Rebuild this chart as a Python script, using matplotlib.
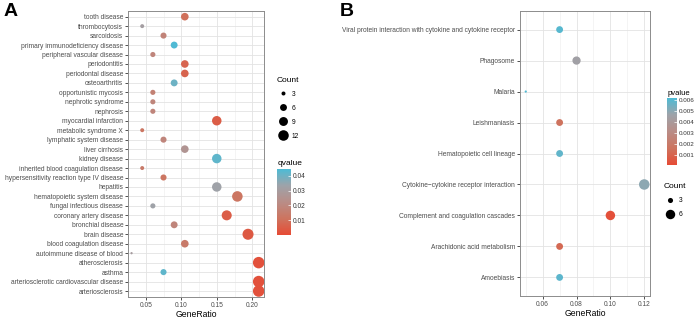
"""
Enrichment dot plots: disease ontology (A) and KEGG pathways (B)
"""
import numpy as np
import matplotlib
matplotlib.use('Agg')
import matplotlib.pyplot as plt
from matplotlib.colors import LinearSegmentedColormap, Normalize
from matplotlib.colorbar import ColorbarBase
from matplotlib.lines import Line2D

plt.rcParams['font.family'] = ['Liberation Sans', 'DejaVu Sans']

# ---------------- panel A data (top to bottom) ----------------
termsA = ['tooth disease', 'thrombocytosis', 'sarcoidosis', 'primary immunodeficiency disease',
          'peripheral vascular disease', 'periodontitis', 'periodontal disease', 'osteoarthritis',
          'opportunistic mycosis', 'nephrotic syndrome', 'nephrosis', 'myocardial infarction',
          'metabolic syndrome X', 'lymphatic system disease', 'liver cirrhosis', 'kidney disease',
          'inherited blood coagulation disease', 'hypersensitivity reaction type IV disease',
          'hepatitis', 'hematopoietic system disease', 'fungal infectious disease',
          'coronary artery disease', 'bronchial disease', 'brain disease',
          'blood coagulation disease', 'autoimmune disease of blood', 'atherosclerosis',
          'asthma', 'arteriosclerotic cardiovascular disease', 'arteriosclerosis']
ratioA = [0.105, 0.045, 0.075, 0.09, 0.06, 0.105, 0.105, 0.09, 0.06, 0.06, 0.06, 0.15,
          0.045, 0.075, 0.105, 0.15, 0.045, 0.075, 0.15, 0.179, 0.06, 0.164, 0.09, 0.194,
          0.105, 0.03, 0.209, 0.075, 0.209, 0.209]
countA = [7, 3, 5, 6, 4, 7, 7, 6, 4, 4, 4, 10, 3, 5, 7, 10, 3, 5, 10, 12, 4, 11, 6, 13,
          7, 2, 14, 5, 14, 14]
qvalA = [0.010, 0.031, 0.018, 0.044, 0.019, 0.007, 0.007, 0.040, 0.017, 0.019, 0.019, 0.005,
         0.012, 0.019, 0.026, 0.042, 0.014, 0.012, 0.033, 0.012, 0.033, 0.005, 0.019, 0.004,
         0.014, 0.030, 0.002, 0.042, 0.002, 0.002]

# ---------------- panel B data (top to bottom) ----------------
termsB = ['Viral protein interaction with cytokine and cytokine receptor', 'Phagosome', 'Malaria',
          'Leishmaniasis', 'Hematopoietic cell lineage', 'Cytokine\u2212cytokine receptor interaction',
          'Complement and coagulation cascades', 'Arachidonic acid metabolism', 'Amoebiasis']
ratioB = [0.07, 0.08, 0.05, 0.07, 0.07, 0.12, 0.10, 0.07, 0.07]
countB = [4, 5, 2, 4, 4, 7, 6, 4, 4]
pvalB = [0.0060, 0.0045, 0.0061, 0.0016, 0.0058, 0.0050, 0.0003, 0.0012, 0.0059]

# red -> grey -> blue, roughly like ggplot's Lab gradient
cmap = LinearSegmentedColormap.from_list('rb', ['#E64B35', '#CD745F', '#B98D87', '#9EA3A9', '#4DBBD5'])

DPI = 100
PT = 72.0 / DPI


def dot_size(c, cmin, cmax, dmin, dmax):
    # area scales linearly with count, diameters in px -> scatter s in pt^2
    a = dmin ** 2 + (np.asarray(c, float) - cmin) / (cmax - cmin) * (dmax ** 2 - dmin ** 2)
    return a * PT ** 2


def style_axes(ax, n, xlim, xticks, xlabels, minor):
    ax.set_ylim(-0.6, n - 0.4)
    ax.set_yticks(range(n))
    ax.set_xlim(*xlim)
    ax.set_xticks(xticks)
    ax.set_xticklabels(xlabels)
    ax.set_xticks(minor, minor=True)
    ax.grid(True, which='major', color='#E3E3E3', lw=0.6)
    ax.grid(True, which='minor', axis='x', color='#F0F0F0', lw=0.5)
    ax.set_axisbelow(True)
    for s in ax.spines.values():
        s.set_color('#8C8C8C')
        s.set_linewidth(0.7)
    ax.tick_params(axis='both', which='major', labelsize=4.8, labelcolor='#4D4D4D',
                   color='#333333', length=2, width=0.6, pad=1.5)
    ax.tick_params(axis='both', which='minor', length=0)
    ax.set_xlabel('GeneRatio', fontsize=6.2, labelpad=1)


W, H = 699, 318
fig = plt.figure(figsize=(W / DPI, H / DPI), dpi=DPI)

# ---------------- panel A ----------------
axA = fig.add_axes([128 / W, 1 - 296.7 / H, 136 / W, 285.7 / H])
nA = len(termsA)
yA = np.arange(nA)[::-1]
normA = Normalize(0.0001, 0.0445)
szA = (2, 14, 2.3, 11.5)
axA.scatter(ratioA, yA, s=dot_size(countA, *szA), c=qvalA, cmap=cmap, norm=normA,
            linewidths=0, zorder=3)
style_axes(axA, nA, (0.025, 0.2165), [0.05, 0.10, 0.15, 0.20], ['0.05', '0.10', '0.15', '0.20'],
           [0.075, 0.125, 0.175])
axA.set_yticklabels(termsA[::-1])

# count legend A
legA = [3, 6, 9, 12]
hA = [Line2D([], [], ls='', marker='o', color='black', markeredgewidth=0,
             markersize=np.sqrt(dot_size(c, *szA))) for c in legA]
lg = fig.legend(hA, [str(c) for c in legA], title='Count', loc='upper left',
                bbox_to_anchor=(272 / W, 1 - 72 / H), frameon=False, fontsize=4.8,
                title_fontsize=6, labelspacing=1.05, handletextpad=0.3, borderpad=0.2)
lg._legend_box.align = 'left'

# qvalue colorbar
caxA = fig.add_axes([277.3 / W, 1 - 235 / H, 13.4 / W, 66 / H])
cbA = ColorbarBase(caxA, cmap=cmap, norm=normA, ticks=[0.01, 0.02, 0.03, 0.04])
cbA.outline.set_visible(False)
cbA.ax.tick_params(labelsize=4.8, length=2.5, color='white', width=0.5, pad=1.5,
                   direction='in', labelcolor='#333333')
cbA.ax.set_title('qvalue', fontsize=6, loc='left', pad=3)

# ---------------- panel B ----------------
axB = fig.add_axes([520 / W, 1 - 296 / H, 130 / W, 285 / H])
nB = len(termsB)
yB = np.arange(nB)[::-1]
normB = Normalize(0.0001, 0.0062)
szB = (2, 7, 2.2, 10.5)
axB.scatter(ratioB, yB, s=dot_size(countB, *szB), c=pvalB, cmap=cmap, norm=normB,
            linewidths=0, zorder=3)
style_axes(axB, nB, (0.0466, 0.1234), [0.06, 0.08, 0.10, 0.12], ['0.06', '0.08', '0.10', '0.12'],
           [0.05, 0.07, 0.09, 0.11])
axB.set_yticklabels(termsB[::-1])

# pvalue colorbar
caxB = fig.add_axes([667.3 / W, 1 - 165 / H, 9.5 / W, 67 / H])
cbB = ColorbarBase(caxB, cmap=cmap, norm=normB,
                   ticks=[0.001, 0.002, 0.003, 0.004, 0.005, 0.006])
cbB.outline.set_visible(False)
cbB.ax.tick_params(labelsize=4.5, length=2, color='white', width=0.5, pad=1.5,
                   direction='in', labelcolor='#333333')
cbB.ax.set_title('pvalue', fontsize=5.5, loc='left', pad=2)

# count legend B
legB = [3, 6]
hB = [Line2D([], [], ls='', marker='o', color='black', markeredgewidth=0,
             markersize=np.sqrt(dot_size(c, *szB))) for c in legB]
lg2 = fig.legend(hB, [str(c) for c in legB], title='Count', loc='upper left',
                 bbox_to_anchor=(659 / W, 1 - 178 / H), frameon=False, fontsize=4.8,
                 title_fontsize=6, labelspacing=1.1, handletextpad=0.3, borderpad=0.2)
lg2._legend_box.align = 'left'

# panel letters
fig.text(4 / W, 1 - 3 / H, 'A', fontsize=14, fontweight='bold', va='top', ha='left')
fig.text(340 / W, 1 - 3 / H, 'B', fontsize=14, fontweight='bold', va='top', ha='left')

fig.savefig('out.png', dpi=DPI)
